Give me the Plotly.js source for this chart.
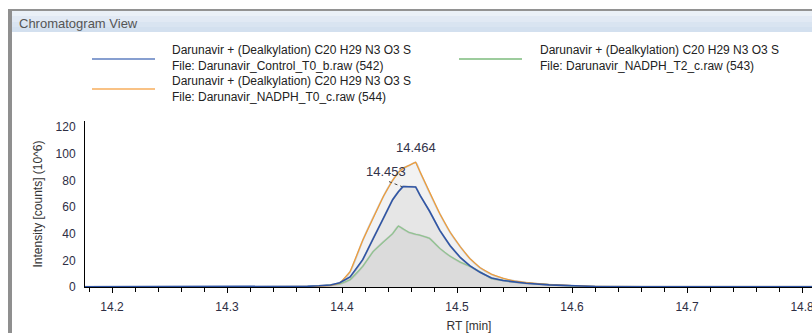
<!DOCTYPE html>
<html><head><meta charset="utf-8">
<script src="https://cdn.plot.ly/plotly-3.0.1.min.js"></script>
<style>
html,body{margin:0;padding:0;overflow:hidden;background:#fff;width:812px;height:333px}
#chart{width:853px;height:333px}
</style>
</head><body><div id="chart"></div>
<script>
// Retention time samples (min)
const rt = [14.176, 14.25, 14.30, 14.35, 14.37, 14.38, 14.39, 14.398, 14.407, 14.418, 14.427, 14.436, 14.444, 14.449, 14.453, 14.458, 14.464, 14.468, 14.476, 14.485, 14.494, 14.503, 14.511, 14.52, 14.53, 14.54, 14.55, 14.56, 14.58, 14.60, 14.62, 14.70, 14.85];
// Intensity (10^6 counts)
const controlT0 = [0.2, 0.2, 0.2, 0.3, 0.5, 0.9, 1.5, 3.2, 7.5, 20.5, 36.5, 51.5, 65.5, 71.5, 75.3, 75.2, 75.0, 68.5, 57, 42.5, 31, 22, 16, 11, 6.8, 4.9, 3.7, 2.8, 1.6, 0.8, 0.4, 0.2, 0.2];
const nadphT0   = [0, 0, 0, 0.2, 0.3, 0.6, 1.2, 2.8, 11.5, 35, 52, 68, 80, 86, 89, 91, 93.5, 86, 71, 55, 41, 30, 21.5, 14.5, 9.5, 6.5, 4.5, 3.3, 1.8, 0.9, 0.4, 0, 0];
const nadphT2   = [0.1, 0.1, 0.1, 0.2, 0.4, 0.7, 1.3, 2.2, 5.5, 15.5, 26.5, 34, 40, 45.7, 43.5, 41, 39.5, 38.8, 36.5, 29, 23, 18.5, 15.5, 11.5, 6.3, 4.8, 3.7, 2.9, 1.6, 0.8, 0.4, 0.2, 0.2];

const compound = "Darunavir + (Dealkylation) C20 H29 N3 O3 S";
const fileNames = ["Darunavir_Control_T0_b.raw (542)", "Darunavir_NADPH_T0_c.raw (544)", "Darunavir_NADPH_T2_c.raw (543)"];
const colors = ["#2f55a6", "#f39a2e", "#8cc68c"];
const legendColors = ["#5f7fc0", "#f7ae5c", "#7dbb7d"];
const series = [controlT0, nadphT0, nadphT2];

// pixel -> paper helpers (figure layout)
const L = 85, PW = 768, B = 287, PH = 166;
const X = px => (px - L) / PW;
const Y = py => (B - py) / PH;

const traces = [];
// shaded peak areas
[nadphT0, controlT0, nadphT2].forEach(v => {
  traces.push({x: rt, y: v, type: 'scatter', mode: 'lines', fill: 'tozeroy',
    fillcolor: 'rgba(140,140,140,0.11)', line: {color: 'rgba(185,185,185,0.8)', width: 1.8, shape: 'spline', smoothing: 0.6},
    hoverinfo: 'skip', showlegend: false});
});
// chromatogram lines: green, orange, blue (blue on top)
[2, 1, 0].forEach(i => {
  traces.push({x: rt, y: series[i], type: 'scatter', mode: 'lines', name: fileNames[i],
    line: {color: colors[i], width: i === 0 ? 1.6 : 1.1}, showlegend: false});
});

function argmax(a){ let k = 0; a.forEach((v,i)=>{ if (v > a[k]) k = i; }); return k; }
const pO = argmax(nadphT0), pB = argmax(controlT0);

const shapes = [
  // title bar bands
  {type:'rect', xref:'paper', yref:'paper', x0:X(8), x1:X(853), y0:Y(16), y1:Y(11), fillcolor:'#eaf0f7', line:{width:0}, layer:'below'},
  {type:'rect', xref:'paper', yref:'paper', x0:X(8), x1:X(853), y0:Y(22), y1:Y(16), fillcolor:'#e1e9f4', line:{width:0}, layer:'below'},
  {type:'rect', xref:'paper', yref:'paper', x0:X(8), x1:X(853), y0:Y(27), y1:Y(22), fillcolor:'#d9e4f1', line:{width:0}, layer:'below'},
  {type:'rect', xref:'paper', yref:'paper', x0:X(8), x1:X(853), y0:Y(32), y1:Y(27), fillcolor:'#d3e0ef', line:{width:0}, layer:'below'},
  // top border
  {type:'line', xref:'paper', yref:'paper', x0:X(8), x1:X(853), y0:Y(10), y1:Y(10), line:{color:'#6e6e6e', width:1.5}},
  // left border
  {type:'rect', xref:'paper', yref:'paper', x0:X(8), x1:X(12), y0:Y(340), y1:Y(10), fillcolor:'#8f8f8f', line:{width:0}},
  // legend samples
  {type:'line', xref:'paper', yref:'paper', x0:X(92), x1:X(155), y0:Y(59), y1:Y(59), line:{color:legendColors[0], width:1.5}},
  {type:'line', xref:'paper', yref:'paper', x0:X(92), x1:X(155), y0:Y(89), y1:Y(89), line:{color:legendColors[1], width:1.5}},
  {type:'line', xref:'paper', yref:'paper', x0:X(459), x1:X(522), y0:Y(59), y1:Y(59), line:{color:legendColors[2], width:1.5}},
  // dotted leader for blue peak label
  {type:'line', xref:'x', yref:'y', xsizemode:'pixel', ysizemode:'pixel', xanchor: rt[pB], yanchor: controlT0[pB],
    x0:-14, x1:-1, y0:5, y1:0, line:{color:'#444', width:1, dash:'dot'}}
];

const fontMain = {family: 'Liberation Sans, Arial, sans-serif', size: 12, color: '#222'};
const annotations = [
  {xref:'paper', yref:'paper', x:X(17), y:Y(23), xanchor:'left', yanchor:'middle', showarrow:false,
    text:'Chromatogram View', font:{family:'Liberation Sans, Arial, sans-serif', size:13, color:'#555'}},
  {xref:'paper', yref:'paper', x:X(170), y:Y(58), xanchor:'left', yanchor:'middle', align:'left', showarrow:false,
    text: compound + '<br>File: ' + fileNames[0], font: fontMain},
  {xref:'paper', yref:'paper', x:X(170), y:Y(88.5), xanchor:'left', yanchor:'middle', align:'left', showarrow:false,
    text: compound + '<br>File: ' + fileNames[1], font: fontMain},
  {xref:'paper', yref:'paper', x:X(538), y:Y(58), xanchor:'left', yanchor:'middle', align:'left', showarrow:false,
    text: compound + '<br>File: ' + fileNames[2], font: fontMain},
  {x: rt[pO], y: nadphT0[pO], xref:'x', yref:'y', showarrow:false, yanchor:'bottom', yshift:5,
    text: rt[pO].toFixed(3), font:{family:'Liberation Sans, Arial, sans-serif', size:13, color:'#33334a'}},
  {x: rt[pB], y: controlT0[pB], xref:'x', yref:'y', showarrow:false, xanchor:'center', yanchor:'middle', xshift:-17, yshift:15,
    text: rt[pB].toFixed(3), font:{family:'Liberation Sans, Arial, sans-serif', size:13, color:'#33334a'}}
];

const tickFont = {family: 'Liberation Sans, Arial, sans-serif', size: 12, color: '#2e2e44'};
const layout = {
  width: 853, height: 333,
  margin: {l: 85, r: 0, t: 121, b: 46, pad: 0},
  paper_bgcolor: '#fff', plot_bgcolor: '#fff',
  showlegend: false,
  xaxis: {
    range: [14.1765, 14.8443], tick0: 14.2, dtick: 0.1, tickformat: '.1f',
    ticks: 'outside', ticklen: 5, tickcolor: '#000', tickwidth: 1,
    showline: true, linecolor: '#000', linewidth: 1, showgrid: false, zeroline: false,
    ticklabelstandoff: 4, tickfont: tickFont, layer: 'below traces',
    minor: {tick0: 14.2, dtick: 0.02, ticks: 'outside', ticklen: 4, tickcolor: '#000', showgrid: false},
    title: {text: 'RT [min]', font: {family:'Liberation Sans, Arial, sans-serif', size: 12, color: '#333'}, standoff: 8}
  },
  yaxis: {
    range: [0, 124.5], dtick: 20, tick0: 0,
    ticks: '', showline: true, linecolor: '#000', linewidth: 1, showgrid: false, zeroline: false,
    ticklabelstandoff: 6, tickfont: tickFont, layer: 'below traces',
    title: {text: 'Intensity [counts] (10^6)', font: {family:'Liberation Sans, Arial, sans-serif', size: 12, color: '#333'}, standoff: 10}
  },
  shapes: shapes,
  annotations: annotations
};

Plotly.newPlot('chart', traces, layout, {displayModeBar: false, staticPlot: true});
</script>
</body></html>
